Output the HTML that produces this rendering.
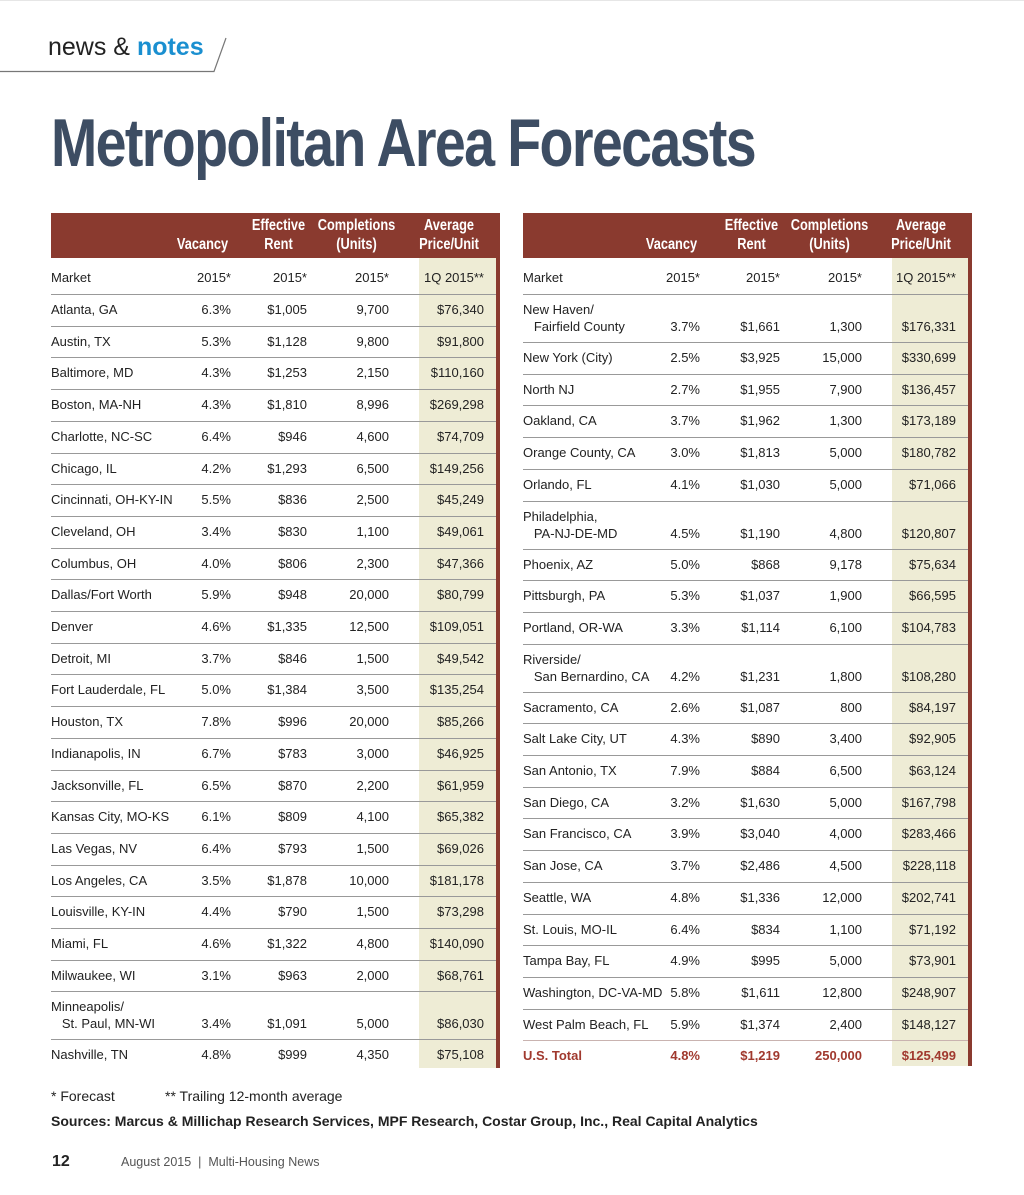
<!DOCTYPE html>
<html><head><meta charset="utf-8"><style>
body{margin:0;width:1024px;height:1195px;background:#fff;position:relative;overflow:hidden;font-family:"Liberation Sans",sans-serif;color:#222}
.a{position:absolute;white-space:nowrap}
.hd{position:absolute;color:#fff;font-family:"Liberation Sans",sans-serif;font-weight:bold;font-size:16px;text-align:center;line-height:19px;transform:scaleX(0.8);transform-origin:center;white-space:nowrap}
.c{position:absolute;font-size:13px;line-height:15px;white-space:nowrap}
</style></head><body>
<div class="a" style="left:0;top:0;width:1024px;height:1px;background:#e6e6e6"></div>
<div class="a" style="left:48px;top:33px;font-size:25px;color:#222">news &amp; <span style="color:#1a8fd0;font-weight:bold">notes</span></div>
<svg class="a" style="left:0;top:0" width="240" height="80"><polyline points="0,71.5 214,71.5 226,38" fill="none" stroke="#777" stroke-width="1.2"/></svg>
<div class="a" style="left:51px;top:104px;font-family:'Liberation Sans',sans-serif;font-weight:bold;font-size:68px;color:#3d4d63;letter-spacing:-2px;transform:scaleX(0.817);transform-origin:left">Metropolitan Area Forecasts</div>
<div id="tables"></div>
<div class="a" style="left:51px;top:1088px;font-size:14px">* Forecast</div>
<div class="a" style="left:165px;top:1088px;font-size:14px">** Trailing 12-month average</div>
<div class="a" style="left:51px;top:1113px;font-size:14px;font-weight:bold">Sources: Marcus &amp; Millichap Research Services, MPF Research, Costar Group, Inc., Real Capital Analytics</div>
<div class="a" style="left:52px;top:1153px;font-size:16px;font-weight:bold">12</div>
<div class="a" style="left:121px;top:1155px;font-size:12.5px;color:#555">August 2015 &nbsp;|&nbsp; Multi-Housing News</div>
<script>
const leftMarkets=["Atlanta, GA","Austin, TX","Baltimore, MD","Boston, MA-NH","Charlotte, NC-SC","Chicago, IL","Cincinnati, OH-KY-IN","Cleveland, OH","Columbus, OH","Dallas/Fort Worth","Denver","Detroit, MI","Fort Lauderdale, FL","Houston, TX","Indianapolis, IN","Jacksonville, FL","Kansas City, MO-KS","Las Vegas, NV","Los Angeles, CA","Louisville, KY-IN","Miami, FL","Milwaukee, WI","Minneapolis/|St. Paul, MN-WI","Nashville, TN"];
const leftVac=["6.3%","5.3%","4.3%","4.3%","6.4%","4.2%","5.5%","3.4%","4.0%","5.9%","4.6%","3.7%","5.0%","7.8%","6.7%","6.5%","6.1%","6.4%","3.5%","4.4%","4.6%","3.1%","3.4%","4.8%"];
const leftRent=["$1,005","$1,128","$1,253","$1,810","$946","$1,293","$836","$830","$806","$948","$1,335","$846","$1,384","$996","$783","$870","$809","$793","$1,878","$790","$1,322","$963","$1,091","$999"];
const leftComp=["9,700","9,800","2,150","8,996","4,600","6,500","2,500","1,100","2,300","20,000","12,500","1,500","3,500","20,000","3,000","2,200","4,100","1,500","10,000","1,500","4,800","2,000","5,000","4,350"];
const leftPrice=["$76,340","$91,800","$110,160","$269,298","$74,709","$149,256","$45,249","$49,061","$47,366","$80,799","$109,051","$49,542","$135,254","$85,266","$46,925","$61,959","$65,382","$69,026","$181,178","$73,298","$140,090","$68,761","$86,030","$75,108"];
const rightMarkets=["New Haven/|Fairfield County","New York (City)","North NJ","Oakland, CA","Orange County, CA","Orlando, FL","Philadelphia,|PA-NJ-DE-MD","Phoenix, AZ","Pittsburgh, PA","Portland, OR-WA","Riverside/|San Bernardino, CA","Sacramento, CA","Salt Lake City, UT","San Antonio, TX","San Diego, CA","San Francisco, CA","San Jose, CA","Seattle, WA","St. Louis, MO-IL","Tampa Bay, FL","Washington, DC-VA-MD","West Palm Beach, FL","U.S. Total"];
const rightVac=["3.7%","2.5%","2.7%","3.7%","3.0%","4.1%","4.5%","5.0%","5.3%","3.3%","4.2%","2.6%","4.3%","7.9%","3.2%","3.9%","3.7%","4.8%","6.4%","4.9%","5.8%","5.9%","4.8%"];
const rightRent=["$1,661","$3,925","$1,955","$1,962","$1,813","$1,030","$1,190","$868","$1,037","$1,114","$1,231","$1,087","$890","$884","$1,630","$3,040","$2,486","$1,336","$834","$995","$1,611","$1,374","$1,219"];
const rightComp=["1,300","15,000","7,900","1,300","5,000","5,000","4,800","9,178","1,900","6,100","1,800","800","3,400","6,500","5,000","4,000","4,500","12,000","1,100","5,000","12,800","2,400","250,000"];
const rightPrice=["$176,331","$330,699","$136,457","$173,189","$180,782","$71,066","$120,807","$75,634","$66,595","$104,783","$108,280","$84,197","$92,905","$63,124","$167,798","$283,466","$228,118","$202,741","$71,192","$73,901","$248,907","$148,127","$125,499"];

const root=document.getElementById('tables');
function el(cls,style,html){const d=document.createElement('div');d.className=cls;d.style.cssText=style;if(html!==undefined)d.innerHTML=html;root.appendChild(d);return d;}
function build(side,x0,markets,vac,rent,comp,price,cols,end){
  const [vR,rR,cR,pR,creamL,tR]=cols;
  let h=el('a',`left:${x0}px;top:213px;width:${tR-x0}px;height:45px;background:#8a3a2f`);
  
  
  const heads=[["Vacancy",vR-60,vR+3],["Effective<br>Rent",rR-60,rR+3],["Completions<br>(Units)",cR-70,cR+5],["Average<br>Price/Unit",pR-75,pR+5]];
  heads.forEach((t,i)=>{const d=el('hd',`left:${t[1]-20}px;top:${i==0?235:216}px;width:${t[2]-t[1]+40}px`,t[0]);
    
    });
  let cream=el('a',`left:${creamL}px;top:258px;width:${tR-4-creamL}px;height:${end-258}px;background:#eeecd5`);
  
  
  let bar=el('a',`left:${tR-4}px;top:213px;width:4px;height:${end-213}px;background:#8a3a2f`);
  
  
  function row(y,cells,bold,color){
    const st=`top:${y}px;${bold?'font-weight:bold;':''}${color?'color:'+color+';':''}`;
    cells.forEach((c,i)=>{
      if(i==0){const d=el('c',`left:${x0}px;${st}`,c);}
      else{const r=[vR,rR,cR,pR][i-1];const d=el('c',`right:${1024-r}px;${st}`,c);}
    });
  }
  row(270,["Market","2015*","2015*","2015*","1Q 2015**"]);
  let y=294;
  markets.forEach((m,i)=>{
    const ln=el('a',`left:${x0}px;top:${y}px;width:${tR-4-x0}px;height:1px;background:${i==markets.length-1&&side=='right'?'#c9b3b0':'#999'}`);
    
    
    const two=m.includes('|');
    const total=m=="U.S. Total";
    if(two){
      const p=m.split('|');
      const d=el('c',`left:${x0}px;top:${y+8}px`,p[0]);
      
      
      row(y+25,["&nbsp;&nbsp;&nbsp;"+p[1],vac[i],rent[i],comp[i],price[i]]);
      y+=48;
    }else{
      row(y+8,[m,vac[i],rent[i],comp[i],price[i]],total,total?'#a0392e':null);
      y+=31.7;
    }
  });
}
build('left',51,leftMarkets,leftVac,leftRent,leftComp,leftPrice,[231,307,389,484,419,500],1068);
build('right',523,rightMarkets,rightVac,rightRent,rightComp,rightPrice,[700,780,862,956,892,972],1066);
</script>
</body></html>
